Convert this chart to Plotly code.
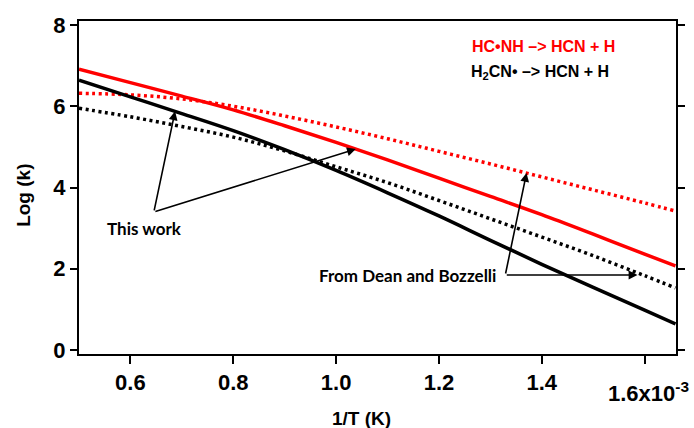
import numpy as np
import plotly.graph_objects as go

# 1/T (x 1e-3 K^-1)
inv_T = [0.5, 0.6, 0.7, 0.8, 0.9, 1.0, 1.1, 1.2, 1.3, 1.4, 1.5, 1.6, 1.66]

# log(k) values
hcnh_this_work = [6.91, 6.58, 6.25, 5.91, 5.52, 5.11, 4.68, 4.23, 3.78, 3.33, 2.85, 2.36, 2.07]
hcnh_dean      = [6.32, 6.28, 6.18, 6.00, 5.76, 5.49, 5.20, 4.89, 4.58, 4.26, 3.94, 3.62, 3.42]
h2cn_this_work = [6.64, 6.23, 5.82, 5.40, 4.93, 4.42, 3.87, 3.30, 2.70, 2.11, 1.54, 0.98, 0.64]
h2cn_dean      = [5.95, 5.74, 5.50, 5.24, 4.90, 4.51, 4.12, 3.68, 3.23, 2.78, 2.32, 1.83, 1.53]

x_tickvals = [0.6, 0.8, 1.0, 1.2, 1.4, 1.6]
x_ticktext = ["0.6", "0.8", "1.0", "1.2", "1.4", " "]
last_tick_label = "1.6x10<sup>-3</sup>"
y_tickvals = [0, 2, 4, 6, 8]

RED = "#ff0000"
BLACK = "#000000"
FONT = "Liberation Sans"

fig = go.Figure()
fig.add_trace(go.Scatter(x=inv_T, y=hcnh_dean, mode="lines",
                         line=dict(color=RED, width=3.5, dash="3px,3.5px", shape="spline"), showlegend=False))
fig.add_trace(go.Scatter(x=inv_T, y=h2cn_dean, mode="lines",
                         line=dict(color=BLACK, width=3.5, dash="3px,3.5px", shape="spline"), showlegend=False))
fig.add_trace(go.Scatter(x=inv_T, y=hcnh_this_work, mode="lines",
                         line=dict(color=RED, width=3.5, shape="spline"), showlegend=False))
fig.add_trace(go.Scatter(x=inv_T, y=h2cn_this_work, mode="lines",
                         line=dict(color=BLACK, width=3.5, shape="spline"), showlegend=False))

annotations = []

# arrows: heads located on the curves
def arrow(hx, hy, tx, ty):
    return dict(x=hx, y=hy, ax=tx, ay=ty, xref="x", yref="y", axref="x", ayref="y",
                text="", showarrow=True, arrowhead=2, arrowsize=1.1, arrowwidth=1.6,
                arrowcolor=BLACK, standoff=0)

tw_tail = (0.6456, 3.40)
annotations.append(arrow(0.6868, float(np.interp(0.6868, inv_T, h2cn_this_work)), *tw_tail))
annotations.append(arrow(1.0383, float(np.interp(1.0383, inv_T, hcnh_this_work)), *tw_tail))
db_tail = (1.329, 1.846)
annotations.append(arrow(1.3703, float(np.interp(1.3703, inv_T, hcnh_dean)), *db_tail))
annotations.append(arrow(1.586, db_tail[1], *db_tail))

annotations.append(dict(x=0.627, y=2.996, xref="x", yref="y", text="<b>This work</b>",
                        showarrow=False, xanchor="center", yanchor="middle",
                        font=dict(family="Lato", size=17, color=BLACK)))
annotations.append(dict(x=1.1385, y=1.846, xref="x", yref="y", text="<b>From Dean and Bozzelli</b>",
                        showarrow=False, xanchor="center", yanchor="middle",
                        font=dict(family="Lato", size=17, color=BLACK)))

# legend-like labels
annotations.append(dict(x=1.404, y=7.466, xref="x", yref="y", text="<b>HC\u2022NH \u2013> HCN + H</b>",
                        showarrow=False, xanchor="center", yanchor="middle",
                        font=dict(family=FONT, size=16, color=RED)))
annotations.append(dict(x=1.3966, y=6.836, xref="x", yref="y",
                        text="<b>H<sub>2</sub>CN\u2022 \u2013> HCN + H</b>",
                        showarrow=False, xanchor="center", yanchor="middle",
                        font=dict(family=FONT, size=16, color=BLACK)))

# last x tick label, drawn lower as in the original
annotations.append(dict(x=x_tickvals[-1] + 0.008, y=-0.066, xref="x", yref="paper",
                        text="<b>" + last_tick_label + "</b>",
                        showarrow=False, xanchor="center", yanchor="top",
                        font=dict(family=FONT, size=22, color=BLACK)))

# axis titles
annotations.append(dict(x=0.4736, y=-0.195, xref="paper", yref="paper", text="<b>1/T (K)</b>",
                        showarrow=False, xanchor="center", yanchor="middle",
                        font=dict(family=FONT, size=19, color=BLACK)))
annotations.append(dict(x=-0.0932, y=0.476, xref="paper", yref="paper", text="<b>Log (k)</b>",
                        showarrow=False, xanchor="center", yanchor="middle", textangle=-90,
                        font=dict(family=FONT, size=19, color=BLACK)))

fig.update_layout(
    width=694, height=428,
    margin=dict(l=79, r=9, t=21, b=74),
    paper_bgcolor="white", plot_bgcolor="white",
    annotations=annotations,
    xaxis=dict(range=[0.5, 1.661], tickvals=x_tickvals, ticktext=x_ticktext,
               showgrid=False, zeroline=False, showline=True, linecolor=BLACK, linewidth=2,
               mirror=True, ticks="outside", ticklen=8, tickwidth=2, tickcolor=BLACK,
               tickfont=dict(family=FONT, size=22, color=BLACK, weight="bold")),
    yaxis=dict(range=[-0.098, 8.098], tickvals=y_tickvals,
               showgrid=False, zeroline=False, showline=True, linecolor=BLACK, linewidth=2,
               mirror="ticks", ticks="outside", ticklen=7, tickwidth=2, tickcolor=BLACK,
               tickfont=dict(family=FONT, size=22, color=BLACK, weight="bold")),
)

fig.write_html("out.html")
